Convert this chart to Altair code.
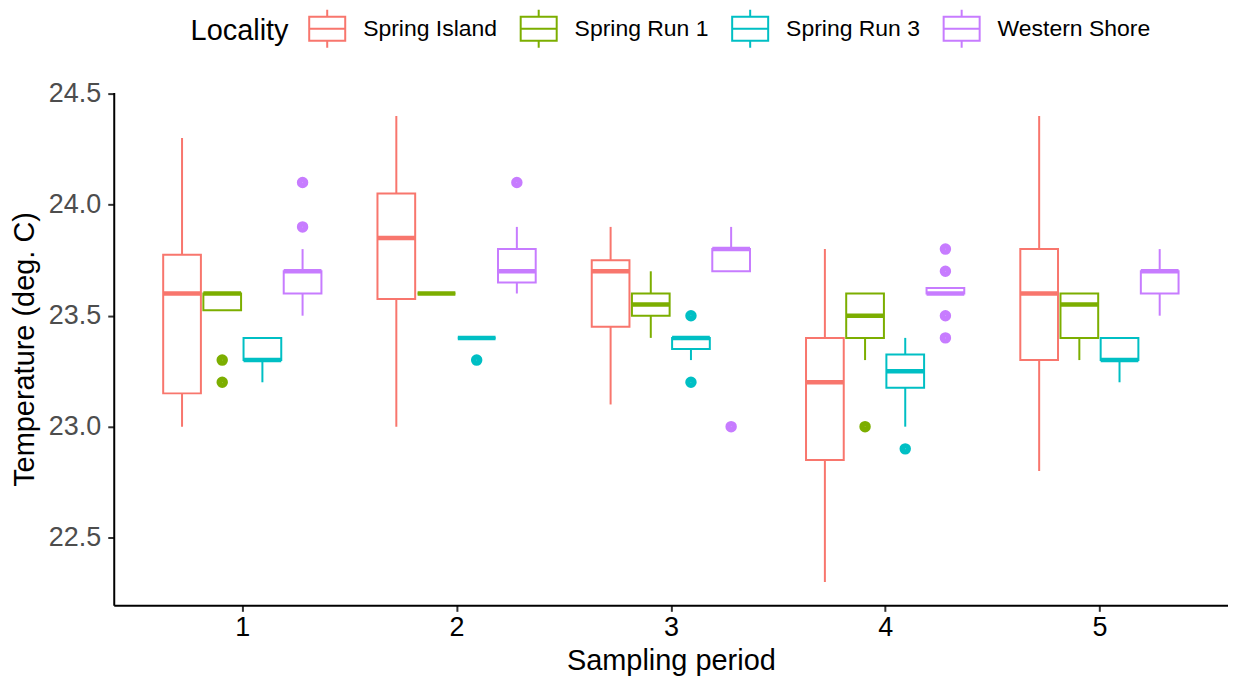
import altair as alt
import pandas as pd

periods = [1, 2, 3, 4, 5]
localities = ["Spring Island", "Spring Run 1", "Spring Run 3", "Western Shore"]
colors = ["#F8766D", "#7CAE00", "#00BFC4", "#C77CFF"]

# Box statistics, period-major, locality-minor order
lower = [23.0, 23.525, 23.2, 23.5,
         23.0, 23.6, 23.4, 23.6,
         23.1, 23.4, 23.3, 23.7,
         22.3, 23.3, 23.0, 23.6,
         22.8, 23.3, 23.2, 23.5]
q1 = [23.15, 23.525, 23.3, 23.6,
      23.575, 23.6, 23.4, 23.65,
      23.45, 23.5, 23.35, 23.7,
      22.85, 23.4, 23.175, 23.6,
      23.3, 23.4, 23.3, 23.6]
median = [23.6, 23.6, 23.3, 23.7,
          23.85, 23.6, 23.4, 23.7,
          23.7, 23.55, 23.4, 23.8,
          23.2, 23.5, 23.25, 23.6,
          23.6, 23.55, 23.3, 23.7]
q3 = [23.775, 23.6, 23.4, 23.7,
      24.05, 23.6, 23.4, 23.8,
      23.75, 23.6, 23.4, 23.8,
      23.4, 23.6, 23.325, 23.625,
      23.8, 23.6, 23.4, 23.7]
upper = [24.3, 23.6, 23.4, 23.8,
         24.4, 23.6, 23.4, 23.9,
         23.9, 23.7, 23.4, 23.9,
         23.8, 23.6, 23.4, 23.625,
         24.4, 23.6, 23.4, 23.8]

out_period = [1, 1, 1, 1, 2, 2, 3, 3, 3, 4, 4, 4, 4, 4, 4]
out_locality = ["Spring Run 1", "Spring Run 1", "Western Shore", "Western Shore",
                "Spring Run 3", "Western Shore",
                "Spring Run 3", "Spring Run 3", "Western Shore",
                "Spring Run 1", "Spring Run 3",
                "Western Shore", "Western Shore", "Western Shore", "Western Shore"]
out_value = [23.3, 23.2, 24.1, 23.9,
             23.3, 24.1,
             23.5, 23.2, 23.0,
             23.0, 22.9,
             23.8, 23.7, 23.5, 23.4]

box_df = pd.DataFrame({
    "period": [p for p in periods for _ in localities],
    "Locality": [l for _ in periods for l in localities],
    "lower": lower, "q1": q1, "median": median, "q3": q3, "upper": upper,
})
out_df = pd.DataFrame({"period": out_period, "Locality": out_locality, "value": out_value})

loc_list = "[" + ",".join("'" + l + "'" for l in localities) + "]"
dodge_expr = f"datum.period + (indexof({loc_list}, datum.Locality) - 1.5) * 0.1875"

xscale = alt.Scale(domain=[0.4, 5.6], nice=False, zero=False)
yscale = alt.Scale(domain=[22.195, 24.505], nice=False, zero=False)

xaxis = alt.Axis(title="Sampling period", values=periods, format="d", grid=False,
                 labelColor="black", labelFontSize=27, titleFontSize=29,
                 titleFontWeight="normal", titleColor="black", labelPadding=3, titlePadding=6)
yaxis = alt.Axis(title="Temperature (deg. C)", values=[22.5, 23.0, 23.5, 24.0, 24.5], format=".1f",
                 grid=False, labelColor="#4D4D4D", labelFontSize=27, titleFontSize=29,
                 titleFontWeight="normal", titleColor="black", labelPadding=7, titlePadding=9)

legend = alt.Legend(
    title="Locality", orient="none", legendX=77, legendY=-84, direction="horizontal",
    titleOrient="left", titleFontSize=29, titleFontWeight="normal", titleColor="black",
    titleAnchor="middle", titleBaseline="middle", titlePadding=18,
    labelFontSize=23, labelColor="black", labelOffset=16, columnPadding=18,
    symbolType="M-0.95,-0.63H0.95V0.63H-0.95Z M-0.95,0H0.95 M0,-0.63V-1 M0,0.63V1",
    symbolSize=1444, symbolStrokeWidth=2, symbolFillColor="white",
)
stroke = alt.Stroke("Locality:N", scale=alt.Scale(domain=localities, range=colors), legend=legend)

base = alt.Chart(box_df).transform_calculate(xc=dodge_expr).transform_calculate(
    xl="datum.xc - 0.088", xr="datum.xc + 0.088"
)

whiskers = base.mark_rule(strokeWidth=2).encode(
    x=alt.X("xc:Q", scale=xscale, axis=xaxis),
    y=alt.Y("lower:Q", scale=yscale, axis=yaxis),
    y2="upper:Q",
    stroke=stroke,
)
boxes = base.mark_bar(fill="white", strokeWidth=2).encode(
    x="xl:Q", x2="xr:Q", y="q1:Q", y2="q3:Q", stroke=stroke,
)
medians = base.mark_rule(strokeWidth=4.5).encode(
    x="xl:Q", x2="xr:Q", y="median:Q", stroke=stroke,
)
outliers = alt.Chart(out_df).transform_calculate(xc=dodge_expr).mark_point(
    shape="circle", size=30, strokeWidth=6, filled=False, opacity=1
).encode(
    x="xc:Q", y="value:Q", stroke=stroke,
)

chart = alt.layer(whiskers, boxes, medians, outliers).properties(
    width=1117, height=514
).configure(
    font="Liberation Sans", padding={"left": 2, "top": 0, "right": 0, "bottom": 0}
).configure_view(stroke=None).configure_axis(
    domainColor="black", domainWidth=2, tickColor="#333333", tickWidth=2, tickSize=6
)

chart.save("out.html", embed_options={"renderer": "svg", "actions": False})
